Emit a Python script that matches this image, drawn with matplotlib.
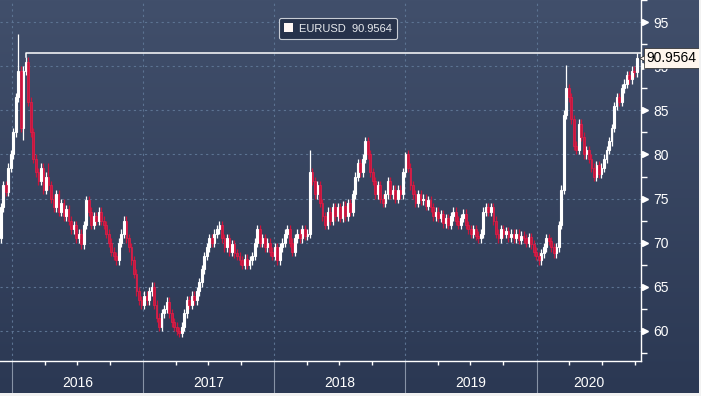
import numpy as np
import pandas as pd
import matplotlib
matplotlib.use("Agg")
import matplotlib.pyplot as plt
import matplotlib.dates as mdates
import matplotlib.transforms as mtransforms
from matplotlib.colors import LinearSegmentedColormap
from matplotlib.patches import Patch, Rectangle


START = "2015-11-24"
FIRST_OPEN = 70.0
LAST_VALUE = 90.9564
PRIOR_HIGH = 91.5

# weekly closes
closes = [
    70.5, 74.0, 76.5, 75.8, 78.5, 80.0, 82.5, 86.5, 89.5, 83.0,
    89.5, 90.5, 86.0, 82.5, 79.5, 78.0, 77.0, 78.5, 76.0, 77.5,
    76.5, 75.0, 74.0, 75.5, 73.5, 74.5, 73.0, 73.8, 72.5, 71.5,
    72.0, 70.5, 71.0, 69.8, 72.0, 74.8, 73.5, 72.0, 73.0, 72.5,
    73.5, 72.5, 72.0, 71.0, 70.0, 69.0, 68.5, 68.0, 70.0, 71.0,
    72.5, 70.5, 69.5, 68.0, 66.5, 64.5, 63.5, 63.0, 64.0, 63.5,
    64.5, 65.0, 63.0, 61.5, 60.5, 62.0, 62.5, 63.3, 62.0, 61.0,
    60.5, 60.0, 59.8, 60.5, 62.0, 63.5, 63.0, 64.0, 63.5, 64.5,
    65.5, 67.0, 68.5, 69.5, 70.5, 70.0, 71.0, 71.5, 72.0, 70.5,
    69.5, 70.5, 69.0, 69.8, 68.8, 68.5, 68.0, 67.5, 68.2, 67.5,
    68.0, 68.5, 70.0, 71.5, 70.0, 70.5, 69.5, 70.0, 69.0, 68.5,
    69.5, 68.0, 69.5, 70.0, 71.0, 71.5, 70.0, 69.0, 70.5, 71.0,
    70.5, 71.5, 70.8, 71.0, 78.0, 77.0, 75.5, 76.5, 74.5, 73.0,
    72.0, 73.5, 72.5, 74.0, 73.0, 74.0, 72.8, 74.2, 73.0, 74.5,
    73.5, 75.5, 77.5, 79.0, 78.0, 79.5, 81.5, 80.0, 78.0, 77.0,
    75.5, 76.5, 75.0, 74.5, 75.5, 77.0, 75.5, 76.0, 75.0, 76.0,
    75.5, 78.0, 80.0, 78.5, 76.5, 75.5, 74.5, 75.5, 74.8, 75.0,
    74.2, 74.8, 74.0, 73.0, 73.5, 72.8, 73.2, 72.2, 72.8, 72.0,
    73.0, 73.5, 72.5, 72.0, 72.8, 73.3, 72.0, 71.5, 71.0, 71.5,
    70.8, 70.5, 71.0, 73.5, 74.0, 73.5, 74.0, 72.5, 71.0, 70.5,
    71.5, 71.0, 71.3, 70.6, 71.0, 70.5, 71.0, 70.3, 70.8, 70.5,
    70.0, 70.6, 69.8, 69.0, 68.5, 68.0, 68.8, 69.5, 70.5, 70.2,
    69.5, 68.8, 69.5, 72.0, 76.0, 84.5, 87.5, 86.5, 84.0, 81.0,
    80.5, 83.5, 82.0, 80.0, 80.5, 79.5, 78.5, 77.5, 78.8, 77.8,
    78.5, 79.5, 80.5, 81.5, 83.0, 85.5, 86.5, 86.0, 87.5, 88.0,
    89.0, 88.5, 89.5, 89.3, LAST_VALUE,
]

# long wicks that stick out of the bodies
spike_highs = {8: 93.6, 20: 79.0, 50: 73.0, 124: 80.5, 146: 82.0, 162: 80.3, 226: 90.1}
spike_lows = {10: 81.6}

WICK = 0.5
UP_COLOR = "white"
DOWN_COLOR = "#c8153c"
GRID_COLOR = "#5c7392"
BG_TOP = "#414f6b"
BG_BOTTOM = "#2b3853"

FONT = ["Liberation Sans Narrow", "Liberation Sans", "DejaVu Sans"]
plt.rcParams["font.family"] = FONT

W, H = 701, 396
fig = plt.figure(figsize=(W / 100, H / 100), dpi=100)

# background gradient over the whole figure
bg = fig.add_axes([0, 0, 1, 1], zorder=0)
grad = np.linspace(0, 1, 256).reshape(-1, 1)
cmap = LinearSegmentedColormap.from_list("bg", [BG_TOP, BG_BOTTOM])
bg.imshow(grad, aspect="auto", cmap=cmap, extent=[0, 1, 0, 1])
bg.set_axis_off()

ax = fig.add_axes([0, 35 / H, 641 / W, 361 / H], zorder=1)
ax.set_facecolor("none")

dates = pd.date_range(START, periods=len(closes), freq="7D")
x = mdates.date2num(dates)
c = np.array(closes)
o = np.concatenate([[FIRST_OPEN], c[:-1]])
hi = np.maximum(o, c) + WICK
lo = np.minimum(o, c) - WICK
for i, v in spike_highs.items():
    hi[i] = v
for i, v in spike_lows.items():
    lo[i] = v

up = c >= o
colors = np.where(up, UP_COLOR, DOWN_COLOR)
ax.vlines(x, lo, hi, colors=colors, lw=0.9, zorder=3)
ax.bar(x[up], (c - o)[up], bottom=o[up], width=5.0, facecolor="none",
       edgecolor=UP_COLOR, lw=0.8, zorder=4)
ax.bar(x[~up], (o - c)[~up], bottom=c[~up], width=5.0, facecolor=DOWN_COLOR,
       edgecolor="#d8204a", lw=0.6, zorder=4)

x_left = mdates.date2num(pd.Timestamp("2016-01-01") - pd.Timedelta(days=33))
x_right = mdates.date2num(pd.Timestamp("2016-01-01") + pd.Timedelta(days=1752))
ax.set_xlim(x_left, x_right)
ax.set_ylim(56.6, 97.5)

# grid
yticks = [60, 65, 70, 75, 80, 85, 90, 95]
for yv in yticks:
    ax.axhline(yv, color=GRID_COLOR, lw=0.8, ls=(0, (2, 3)), zorder=1)
years = [2016, 2017, 2018, 2019, 2020]
year_x = [mdates.date2num(pd.Timestamp(f"{y}-01-01")) for y in years]
for xv in year_x:
    ax.axvline(xv, color=GRID_COLOR, lw=0.8, ls=(0, (2, 3)), zorder=1)

# prior high line
peak = int(np.argmax(c[:30]))
ax.plot([x[peak], x[peak], x_right], [hi[peak], PRIOR_HIGH, PRIOR_HIGH],
        color="white", lw=1.1, zorder=5, clip_on=False)

# spines
for s in ["top", "left"]:
    ax.spines[s].set_visible(False)
for s in ["right", "bottom"]:
    ax.spines[s].set_color("white")
    ax.spines[s].set_linewidth(1.0)

# y axis on the right
ax.yaxis.tick_right()
ax.set_yticks(yticks)
ax.set_yticks(np.arange(57.5, 98, 5), minor=True)
ax.tick_params(axis="y", which="major", length=0, pad=9, labelcolor="white",
               labelsize=10)
ax.tick_params(axis="y", which="minor", length=4, width=1, color="white", direction="out")
ytrans = mtransforms.blended_transform_factory(ax.transAxes, ax.transData)
ax.plot([1.006] * len(yticks), yticks, ls="none", marker=">", ms=4.5,
        color="white", transform=ytrans, clip_on=False, zorder=6)

# x axis: quarterly ticks, year separators and labels
ax.set_xticks(year_x)
ax.set_xticklabels([])
quarters = [mdates.date2num(d) for d in pd.date_range("2016-01-01", "2020-10-01", freq="QS")]
ax.set_xticks(quarters, minor=True)
ax.tick_params(axis="x", which="major", length=0)
ax.tick_params(axis="x", which="minor", length=3, width=1, color="white", direction="out")
xtrans = mtransforms.blended_transform_factory(ax.transData, ax.transAxes)
for xv in year_x:
    ax.plot([xv, xv], [0, -32 / 361], color="#8793a6", lw=0.8, transform=xtrans,
            clip_on=False)
edges = year_x + [x_right]
for i, y in enumerate(years):
    ax.text((edges[i] + edges[i + 1]) / 2, -22 / 361, str(y), transform=xtrans,
            ha="center", va="center", color="white", fontsize=10)

# value tag on the right axis (covers the 90 label, as in the original)
ax.plot([1.004], [LAST_VALUE], ls="none", marker="<", ms=7, color="#fff6ee",
        markeredgecolor="#222222", markeredgewidth=0.5, transform=ytrans,
        clip_on=False, zorder=7)
ax.text(1.009, LAST_VALUE, f"{LAST_VALUE:.4f}", transform=ytrans, ha="left",
        va="center", color="black", fontsize=10, zorder=8,
        bbox=dict(boxstyle="square,pad=0.2", facecolor="#fff6ee",
                  edgecolor="#222222", lw=0.5))

# legend
leg = ax.legend(handles=[Patch(facecolor="#fff6f4", edgecolor="none")],
                labels=[f"EURUSD  {LAST_VALUE:.4f}"], loc="center",
                bbox_to_anchor=(338 / 641, 1 - 28.5 / 361), fontsize=8,
                frameon=True, fancybox=True, facecolor="#27324b",
                edgecolor="#c8ccd4", framealpha=1, handlelength=0.8,
                handleheight=0.8, handletextpad=0.5, borderpad=0.5,
                borderaxespad=0)
leg.get_frame().set_linewidth(0.8)
for t in leg.get_texts():
    t.set_color("#e8eaee")

# thin light border at bottom and right edges
fig.patches.append(Rectangle((0, 0), 1, 3 / H, transform=fig.transFigure,
                             facecolor="#f2f2f2", edgecolor="none", zorder=10))
fig.patches.append(Rectangle((1 - 2 / W, 0), 2 / W, 1, transform=fig.transFigure,
                             facecolor="#f2f2f2", edgecolor="none", zorder=10))

fig.savefig("out.png", dpi=100)
